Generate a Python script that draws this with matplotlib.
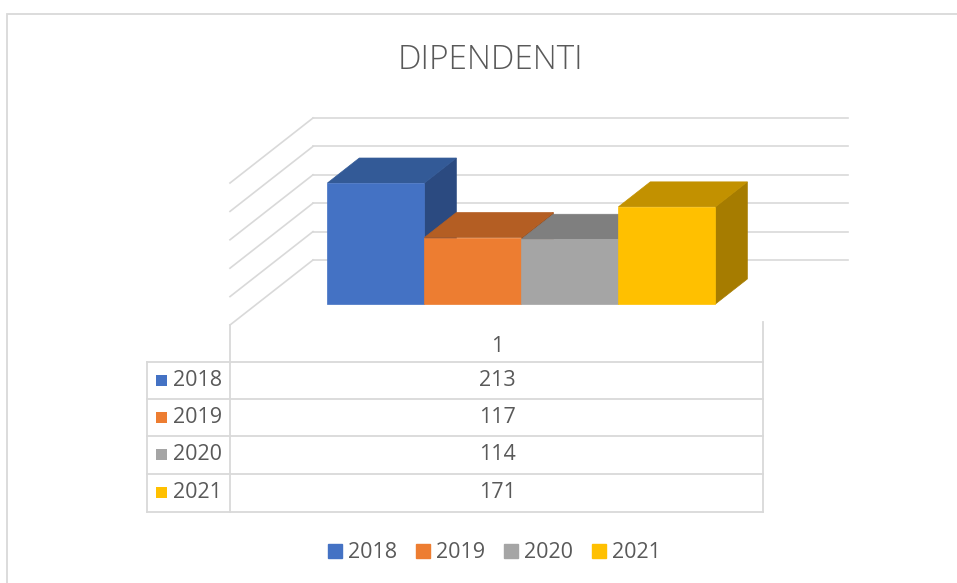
import matplotlib.pyplot as plt
from matplotlib.patches import Polygon, Rectangle
from matplotlib.lines import Line2D

# --- dati ---
anni = ['2018', '2019', '2020', '2021']
dipendenti = [213, 117, 114, 171]
categoria = '1'
griglia = [0, 50, 100, 150, 200, 250]

colori_fronte = ['#4472C4', '#ED7D31', '#A5A5A5', '#FFC000']
colori_sopra = ['#335A97', '#B45E23', '#7F7F7F', '#C29100']
colori_lato = ['#2B4A80', '#9C4F1C', '#6E6E6E', '#A67C00']
grigio_testo = '#595959'
grigio_linee = '#D9D9D9'

plt.rcParams['font.family'] = ['Open Sans', 'DejaVu Sans']

W_PX, H_PX = 957, 583
fig = plt.figure(figsize=(W_PX / 100, H_PX / 100), dpi=100)

def fx(x):
    return x / W_PX

def fy(y):
    return 1 - y / H_PX

# cornice dell'area grafico
fig.add_artist(Rectangle((fx(7), -0.1), 1.2, fy(14) + 0.1, transform=fig.transFigure,
                         fill=False, ec=grigio_linee, lw=1.3))

# --- area del grafico 3D (piano frontale) ---
sx, sy = 97.0, 0.568          # pixel per unità (larghezza barra, valore)
left, right, base, top = 230, 765, 325, 100
ax = fig.add_axes([fx(left), fy(base), fx(right - left), (base - top) / H_PX])
larg = (right - left) / sx
ax.set_xlim(0, larg)
ax.set_ylim(0, (base - top) / sy)
ax.axis('off')

# proiezione obliqua: profondità d da 0 (davanti) a 1 (parete di fondo)
KX, KY = 83 / sx, 65 / sy

def proietta(x, v, d):
    return (x + d * KX, v + d * KY)

# linee della griglia: parete di fondo e parete laterale
for v in griglia:
    xs, ys = zip(proietta(0, v, 1), proietta(larg, v, 1))
    ax.plot(xs, ys, color=grigio_linee, lw=1.2, clip_on=False, zorder=1)
    xs, ys = zip(proietta(0, v, 1), proietta(0, v, 0))
    ax.plot(xs, ys, color=grigio_linee, lw=1.2, clip_on=False, zorder=1)

# barre 3D
d0, d1 = 21 / 65, 46 / 65
x0 = larg / 2 - len(anni) / 2 - 0.03
for i, v in enumerate(dipendenti):
    a, b = x0 + i, x0 + i + 1
    lato = [proietta(b, 0, d0), proietta(b, 0, d1), proietta(b, v, d1), proietta(b, v, d0)]
    sopra = [proietta(a, v, d0), proietta(b, v, d0), proietta(b, v, d1), proietta(a, v, d1)]
    fronte = [proietta(a, 0, d0), proietta(b, 0, d0), proietta(b, v, d0), proietta(a, v, d0)]
    for pts, col in ((lato, colori_lato[i]), (sopra, colori_sopra[i]), (fronte, colori_fronte[i])):
        ax.add_patch(Polygon(pts, closed=True, fc=col, ec=col, lw=0.5,
                             clip_on=False, zorder=2 + i))

fig.text(fx(490), fy(60), 'DIPENDENTI', ha='center', va='center',
         color=grigio_testo, fontsize=24, fontweight='light')

# --- tabella dati ---
righe_y = [362, 399, 436, 474, 512]
tab_sx = 147

def linea(x1, y1, x2, y2):
    fig.add_artist(Line2D([fx(x1), fx(x2)], [fy(y1), fy(y2)], transform=fig.transFigure,
                          color=grigio_linee, lw=1.3))

linea(left, base, left, righe_y[-1])
linea(right - 2, 322, right - 2, righe_y[-1])
linea(tab_sx, righe_y[0], tab_sx, righe_y[-1])
for y in righe_y:
    linea(tab_sx, y, right - 2, y)

fs = 15.5
xc = (left + right) / 2
fig.text(fx(xc), fy(346), categoria, ha='center', va='center', color=grigio_testo, fontsize=fs)
for i, (anno, v) in enumerate(zip(anni, dipendenti)):
    yc = (righe_y[i] + righe_y[i + 1]) / 2
    fig.text(fx(xc), fy(yc), str(v), ha='center', va='center', color=grigio_testo, fontsize=fs)
    fig.text(fx(173), fy(yc), anno, ha='left', va='center', color=grigio_testo, fontsize=fs)
    fig.add_artist(Rectangle((fx(156), fy(yc + 5)), 11 / W_PX, 11 / H_PX,
                             transform=fig.transFigure, fc=colori_fronte[i], ec='none'))

# --- legenda ---
maniglie = [Line2D([], [], marker='s', ls='none', markersize=9.5, color=c) for c in colori_fronte]
fig.legend(maniglie, anni, loc='center', bbox_to_anchor=(fx(494), fy(553)), ncol=4,
           frameon=False, handlelength=0.7, handletextpad=0.25, columnspacing=0.85,
           labelcolor=grigio_testo, fontsize=fs)

fig.savefig('out.png', dpi=100, facecolor='white')
